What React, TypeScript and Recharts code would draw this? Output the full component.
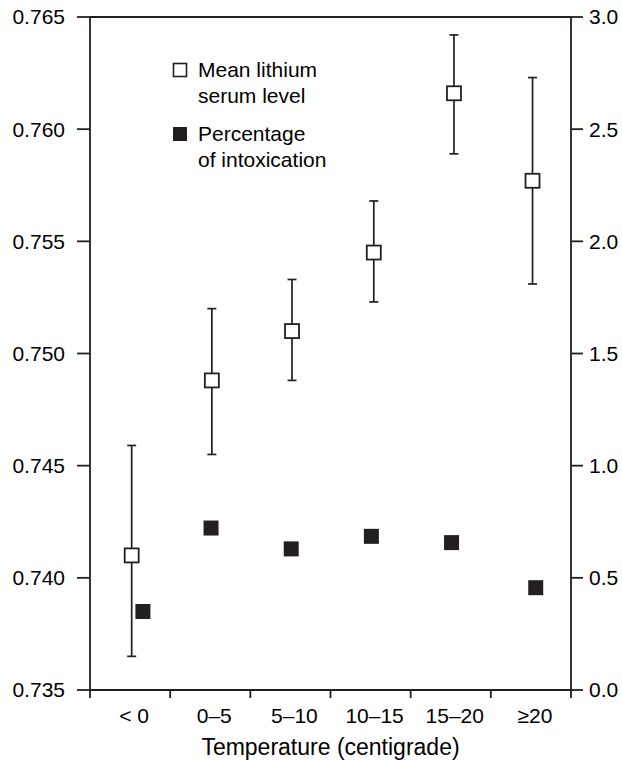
import React from "react";
import {
  ErrorBar,
  Legend,
  ReferenceLine,
  Scatter,
  ScatterChart,
  XAxis,
  YAxis,
} from "recharts";

const INK = "#231f20";
const FONT = '"Liberation Sans", Arial, Helvetica, sans-serif';

// temperature bands (centigrade)
const categories = ["< 0", "0–5", "5–10", "10–15", "15–20", "≥20"];
const bandEdges = [0, 1, 2, 3, 4, 5, 6];

// mean lithium serum level (left axis) with its interval
const meanX = [0.52, 1.52, 2.52, 3.54, 4.54, 5.52];
const meanLevel = [0.741, 0.7488, 0.751, 0.7545, 0.7616, 0.7577];
const meanHigh = [0.7459, 0.752, 0.7533, 0.7568, 0.7642, 0.7623];
const meanLow = [0.7365, 0.7455, 0.7488, 0.7523, 0.7589, 0.7531];

// percentage of intoxication (right axis)
const pctX = [0.66, 1.51, 2.51, 3.51, 4.51, 5.56];
const pctIntox = [0.35, 0.722, 0.629, 0.685, 0.657, 0.456];

const leftTicks = [0.735, 0.74, 0.745, 0.75, 0.755, 0.76, 0.765];
const rightTicks = [0, 0.5, 1, 1.5, 2, 2.5, 3];

const legendItems = [
  { lines: ["Mean lithium", "serum level"], filled: false },
  { lines: ["Percentage", "of intoxication"], filled: true },
];

const meanData = meanLevel.map((v, i) => ({
  x: meanX[i],
  y: v,
  err: [v - meanLow[i], meanHigh[i] - v],
}));
const pctData = pctIntox.map((v, i) => ({ x: pctX[i], y: v }));

const PLOT_W = 481;
const HALF_BAND = PLOT_W / categories.length / 2;

const OpenSquare = (props: any) => {
  const { cx, cy } = props;
  if (cx == null || cy == null) return <g />;
  return <rect x={cx - 7} y={cy - 7} width={14} height={14} fill="#fff" stroke={INK} strokeWidth={1.8} />;
};

const FilledSquare = (props: any) => {
  const { cx, cy } = props;
  if (cx == null || cy == null) return <g />;
  return <rect x={cx - 7.5} y={cy - 7.5} width={15} height={15} fill={INK} />;
};

// label sits in the middle of the band that starts at this tick
const BandTick = (props: any) => {
  const { x, y, payload } = props;
  const name = categories[payload.value];
  if (!name) return <g />;
  return (
    <text x={x + HALF_BAND + 4} y={y} dy="0.71em" textAnchor="middle" fill="#000" fontSize={21} fontFamily={FONT}>
      {name}
    </text>
  );
};

const LegendBox = () => (
  <div style={{ fontFamily: FONT, fontSize: 21, color: "#000", lineHeight: "26px" }}>
    {legendItems.map((item, i) => (
      <div key={i} style={{ display: "flex", alignItems: "flex-start", marginBottom: i === 0 ? 12 : 0 }}>
        <svg width={16} height={16} style={{ marginTop: 5, marginRight: 10 }}>
          {item.filled ? (
            <rect x={1} y={1} width={14} height={14} fill={INK} />
          ) : (
            <rect x={1.5} y={1.5} width={13} height={13} fill="#fff" stroke={INK} strokeWidth={1.6} />
          )}
        </svg>
        <div>
          {item.lines.map((l) => (
            <div key={l}>{l}</div>
          ))}
        </div>
      </div>
    ))}
  </div>
);

const tickStyle = { fill: "#000", fontSize: 21, fontFamily: FONT };

export default function App() {
  return (
    <div style={{ position: "absolute", left: 0, top: 0, width: 622, height: 760, background: "#fff" }}>
      <ScatterChart width={622} height={760} margin={{ top: 17, right: 0, bottom: 0, left: 0 }}>
        <XAxis
          xAxisId="pos"
          type="number"
          dataKey="x"
          domain={[0, 6]}
          ticks={bandEdges}
          interval={0}
          height={70}
          tick={<BandTick />}
          tickSize={8}
          tickMargin={10}
          stroke={INK}
          strokeWidth={1.8}
          allowDataOverflow
          label={{
            value: "Temperature (centigrade)",
            position: "insideBottom",
            offset: 5,
            style: { fill: "#000", fontSize: 23, fontFamily: FONT },
          }}
        />
        <YAxis
          yAxisId="left"
          type="number"
          dataKey="y"
          domain={[0.735, 0.765]}
          ticks={leftTicks}
          tickFormatter={(v: number) => v.toFixed(3)}
          width={90}
          tickSize={13}
          tickMargin={12}
          tick={tickStyle}
          stroke={INK}
          strokeWidth={1.8}
          interval={0}
          allowDataOverflow
        />
        <YAxis
          yAxisId="right"
          orientation="right"
          type="number"
          dataKey="y"
          domain={[0, 3]}
          ticks={rightTicks}
          tickFormatter={(v: number) => v.toFixed(1)}
          width={51}
          tickSize={12}
          tickMargin={6}
          tick={tickStyle}
          stroke={INK}
          strokeWidth={1.8}
          interval={0}
          allowDataOverflow
        />
        <ReferenceLine yAxisId="left" xAxisId="pos" y={0.765} stroke={INK} strokeWidth={1.8} />
        <Legend
          layout="vertical"
          align="center"
          verticalAlign="middle"
          content={() => <LegendBox />}
          wrapperStyle={{ left: 172, top: 57, width: 260 }}
        />
        <Scatter
          name="Mean lithium serum level"
          data={meanData}
          xAxisId="pos"
          yAxisId="left"
          shape={OpenSquare}
          isAnimationActive={false}
        >
          <ErrorBar dataKey="err" direction="y" width={4.5} stroke={INK} strokeWidth={1.7} isAnimationActive={false} />
        </Scatter>
        <Scatter
          name="Percentage of intoxication"
          data={pctData}
          xAxisId="pos"
          yAxisId="right"
          shape={FilledSquare}
          isAnimationActive={false}
        />
      </ScatterChart>
    </div>
  );
}
